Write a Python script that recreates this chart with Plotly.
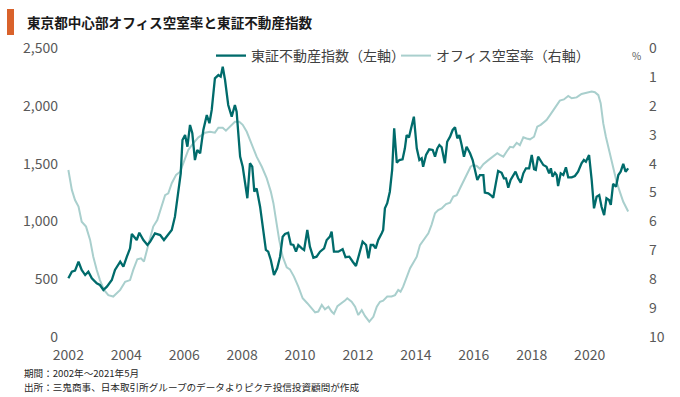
import plotly.graph_objects as go

# 東証不動産指数（左軸） — time (decimal year) and value
reit_t = [2002.00, 2002.12, 2002.23, 2002.35, 2002.46, 2002.58, 2002.69, 2002.81, 2002.98, 2003.09,
          2003.21, 2003.33, 2003.50, 2003.61, 2003.79, 2003.90, 2004.02, 2004.13, 2004.19, 2004.36,
          2004.45, 2004.59, 2004.73, 2004.82, 2004.99, 2005.17, 2005.30, 2005.45, 2005.57, 2005.68,
          2005.80, 2005.88, 2005.94, 2006.03, 2006.11, 2006.20, 2006.28, 2006.37, 2006.45, 2006.55,
          2006.66, 2006.78, 2006.87, 2006.95, 2007.06, 2007.18, 2007.26, 2007.33, 2007.41, 2007.52,
          2007.64, 2007.75, 2007.81, 2007.93, 2008.02, 2008.10, 2008.18, 2008.27, 2008.35, 2008.42,
          2008.50, 2008.62, 2008.73, 2008.82, 2008.90, 2008.99, 2009.10, 2009.21, 2009.31, 2009.40,
          2009.48, 2009.59, 2009.68, 2009.77, 2009.86, 2009.94, 2010.06, 2010.14, 2010.25, 2010.34,
          2010.46, 2010.57, 2010.69, 2010.83, 2010.92, 2011.03, 2011.09, 2011.17, 2011.32, 2011.47,
          2011.57, 2011.70, 2011.82, 2011.93, 2012.05, 2012.16, 2012.28, 2012.36, 2012.44, 2012.53,
          2012.61, 2012.70, 2012.82, 2012.87, 2012.93, 2013.01, 2013.10, 2013.18, 2013.25, 2013.34,
          2013.43, 2013.54, 2013.62, 2013.68, 2013.76, 2013.85, 2013.93, 2014.03, 2014.12, 2014.20,
          2014.25, 2014.35, 2014.46, 2014.58, 2014.66, 2014.74, 2014.81, 2014.89, 2015.00, 2015.08,
          2015.18, 2015.27, 2015.35, 2015.43, 2015.50, 2015.58, 2015.66, 2015.75, 2015.87, 2015.96,
          2016.04, 2016.12, 2016.21, 2016.33, 2016.38, 2016.50, 2016.58, 2016.67, 2016.76, 2016.84,
          2016.96, 2017.04, 2017.11, 2017.19, 2017.27, 2017.36, 2017.44, 2017.53, 2017.62, 2017.71,
          2017.80, 2017.91, 2018.00, 2018.08, 2018.14, 2018.22, 2018.31, 2018.40, 2018.51, 2018.60,
          2018.66, 2018.72, 2018.80, 2018.86, 2018.91, 2019.00, 2019.09, 2019.18, 2019.26, 2019.38,
          2019.49, 2019.60, 2019.72, 2019.80, 2019.87, 2019.98, 2020.07, 2020.15, 2020.24, 2020.33,
          2020.41, 2020.50, 2020.58, 2020.67, 2020.73, 2020.81, 2020.91, 2020.99, 2021.07, 2021.16,
          2021.24, 2021.33]
reit_v = [508, 565, 574, 651, 580, 536, 565, 508, 464, 450,
          407, 435, 493, 580, 651, 608, 695, 767, 891, 839,
          902, 839, 796, 824, 897, 882, 839, 882, 926, 1041,
          1257, 1416, 1704, 1747, 1646, 1834, 1762, 1531, 1618, 1589,
          1790, 1920, 1849, 1964, 2238, 2266, 2252, 2338, 2223, 2007,
          1906, 2007, 1949, 1560, 1473, 1343, 1200, 1503, 1473, 1257,
          1286, 1127, 897, 753, 738, 666, 536, 594, 695, 868,
          891, 902, 802, 796, 738, 796, 767, 753, 926, 781,
          686, 695, 738, 767, 839, 868, 911, 738, 738, 760,
          690, 695, 651, 614, 724, 824, 796, 681, 796, 796,
          767, 839, 897, 926, 1113, 1157, 1257, 1445, 1805, 1508,
          1531, 1537, 1632, 1747, 1727, 1819, 1906, 1632, 1531, 1546,
          1473, 1574, 1623, 1618, 1560, 1632, 1661, 1641, 1503, 1689,
          1733, 1791, 1814, 1719, 1747, 1661, 1560, 1646, 1589, 1531,
          1430, 1358, 1401, 1401, 1249, 1243, 1228, 1205, 1329, 1436,
          1421, 1373, 1373, 1292, 1358, 1401, 1430, 1373, 1335, 1416,
          1459, 1459, 1574, 1451, 1445, 1560, 1517, 1488, 1473, 1416,
          1459, 1387, 1421, 1401, 1306, 1416, 1401, 1468, 1381, 1381,
          1393, 1430, 1503, 1531, 1517, 1574, 1358, 1113, 1214, 1228,
          1127, 1055, 1200, 1185, 1142, 1324, 1300, 1401, 1430, 1497,
          1430, 1459]

# オフィス空室率（右軸） — time (decimal year) and %
vac_t = [2002.00, 2002.12, 2002.23, 2002.35, 2002.46, 2002.61, 2002.75, 2002.86, 2002.98, 2003.09,
         2003.23, 2003.38, 2003.55, 2003.67, 2003.79, 2003.96, 2004.13, 2004.24, 2004.38, 2004.51,
         2004.61, 2004.73, 2004.82, 2004.93, 2005.07, 2005.22, 2005.34, 2005.45, 2005.57, 2005.72,
         2005.86, 2005.99, 2006.14, 2006.31, 2006.49, 2006.66, 2006.72, 2006.89, 2007.06, 2007.18,
         2007.33, 2007.44, 2007.58, 2007.75, 2007.90, 2008.02, 2008.16, 2008.33, 2008.50, 2008.68,
         2008.85, 2008.99, 2009.08, 2009.17, 2009.28, 2009.40, 2009.54, 2009.65, 2009.79, 2009.94,
         2010.09, 2010.25, 2010.40, 2010.52, 2010.63, 2010.75, 2010.86, 2010.98, 2011.09, 2011.17,
         2011.29, 2011.44, 2011.55, 2011.63, 2011.78, 2011.90, 2012.01, 2012.13, 2012.24, 2012.39,
         2012.53, 2012.65, 2012.76, 2012.87, 2013.01, 2013.16, 2013.28, 2013.39, 2013.47, 2013.56,
         2013.68, 2013.80, 2013.91, 2014.03, 2014.14, 2014.28, 2014.43, 2014.54, 2014.66, 2014.77,
         2014.89, 2015.04, 2015.18, 2015.29, 2015.41, 2015.52, 2015.66, 2015.77, 2015.89, 2015.98,
         2016.10, 2016.21, 2016.33, 2016.50, 2016.67, 2016.81, 2016.90, 2017.02, 2017.13, 2017.25,
         2017.36, 2017.48, 2017.59, 2017.71, 2017.82, 2017.94, 2018.08, 2018.19, 2018.31, 2018.42,
         2018.51, 2018.63, 2018.74, 2018.86, 2018.97, 2019.11, 2019.26, 2019.38, 2019.55, 2019.72,
         2019.89, 2020.07, 2020.18, 2020.30, 2020.38, 2020.47, 2020.56, 2020.64, 2020.72, 2020.81,
         2020.93, 2021.04, 2021.16, 2021.33]
vac_v = [4.22, 4.91, 5.26, 5.49, 6.01, 6.18, 6.64, 7.22, 7.68, 8.03,
         8.37, 8.55, 8.60, 8.49, 8.37, 8.09, 8.03, 7.68, 7.31, 7.28,
         7.39, 6.93, 6.59, 6.18, 5.95, 5.43, 5.09, 5.03, 4.68, 4.39,
         4.28, 3.93, 3.53, 3.30, 3.09, 2.98, 2.93, 2.90, 2.93, 2.76,
         2.76, 2.86, 2.72, 2.55, 2.55, 2.66, 2.90, 3.30, 3.76, 4.11,
         4.51, 4.97, 5.37, 5.95, 6.64, 7.22, 7.59, 7.66, 7.91, 8.26,
         8.66, 8.83, 9.01, 9.15, 9.12, 8.89, 9.04, 8.95, 9.12, 9.20,
         8.93, 8.83, 8.74, 8.66, 8.78, 8.95, 9.24, 9.07, 9.27, 9.47,
         9.30, 8.95, 8.78, 8.74, 8.60, 8.60, 8.55, 8.37, 8.43, 8.26,
         7.97, 7.62, 7.43, 7.22, 6.82, 6.64, 6.41, 6.12, 5.72, 5.61,
         5.55, 5.40, 5.35, 5.14, 5.09, 4.86, 4.57, 4.39, 4.11, 4.05,
         4.08, 4.18, 4.02, 3.88, 3.76, 3.64, 3.70, 3.76, 3.59, 3.42,
         3.44, 3.28, 3.36, 3.09, 3.13, 3.16, 3.07, 2.72, 2.66, 2.55,
         2.49, 2.32, 2.15, 1.97, 1.82, 1.78, 1.66, 1.74, 1.71, 1.59,
         1.55, 1.51, 1.53, 1.63, 1.91, 2.61, 3.07, 3.42, 3.76, 4.22,
         4.63, 4.97, 5.32, 5.66]

year_ticks = [2002, 2004, 2006, 2008, 2010, 2012, 2014, 2016, 2018, 2020]
left_ticks = [0, 500, 1000, 1500, 2000, 2500]
right_ticks = [0, 1, 2, 3, 4, 5, 6, 7, 8, 9, 10]

DARK = "#006B6B"
LIGHT = "#A9CFCD"
FONT = "Noto Sans CJK JP"
TICK_COLOR = "#595959"

fig = go.Figure()
fig.add_trace(go.Scatter(x=vac_t, y=vac_v, mode="lines", name="オフィス空室率（右軸）",
                         line=dict(color=LIGHT, width=2), yaxis="y", legendrank=2))
fig.add_trace(go.Scatter(x=reit_t, y=reit_v, mode="lines", name="東証不動産指数（左軸）",
                         line=dict(color=DARK, width=2.3), yaxis="y2", legendrank=1))

W, H = 680, 397
L, R, T, B = 62, 44, 48, 60
pw, ph = W - L - R, H - T - B

def px(x):
    return (x - L) / pw

def py(y):
    return (H - B - y) / ph

fig.update_layout(
    width=W, height=H,
    margin=dict(l=L, r=R, t=T, b=B),
    paper_bgcolor="white", plot_bgcolor="white",
    font=dict(family=FONT, color=TICK_COLOR),
    showlegend=True,
    legend=dict(orientation="h", x=px(211), y=py(56), xanchor="left", yanchor="middle",
                font=dict(size=14, color="#404040", family=FONT),
                bgcolor="rgba(0,0,0,0)", entrywidth=140, entrywidthmode="pixels",
                itemwidth=30),
    xaxis=dict(range=[2001.78, 2021.60], tickvals=year_ticks, ticktext=[str(v) for v in year_ticks],
               showgrid=False, zeroline=False, showline=False, ticks="", ticklabelstandoff=8,
               tickfont=dict(size=14, color=TICK_COLOR)),
    yaxis=dict(side="right", range=[10, 0], tickvals=right_ticks, showgrid=False, zeroline=False,
               showline=False, ticks="", ticklabelstandoff=12,
               tickfont=dict(size=14, color=TICK_COLOR)),
    yaxis2=dict(side="left", overlaying="y", range=[0, 2500], tickvals=left_ticks,
                tickformat=",", showgrid=False, zeroline=False, showline=False, ticks="",
                ticklabelstandoff=3, tickfont=dict(size=14, color=TICK_COLOR)),
    shapes=[dict(type="rect", xref="paper", yref="paper", x0=px(7), x1=px(14), y0=py(35), y1=py(9),
                 fillcolor="#D9622B", line=dict(width=0))],
    annotations=[
        dict(text="<b>東京都中心部オフィス空室率と東証不動産指数</b>", xref="paper", yref="paper",
             x=px(25), y=py(22), xanchor="left", yanchor="middle", showarrow=False,
             font=dict(size=13.6, color="#1a1a1a", family=FONT)),
        dict(text="%", xref="paper", yref="paper", x=px(636), y=py(56), xanchor="center",
             yanchor="middle", showarrow=False, font=dict(size=10, color=TICK_COLOR, family=FONT)),
        dict(text="期間：2002年～2021年5月", xref="paper", yref="paper", x=px(22), y=py(373),
             xanchor="left", yanchor="middle", showarrow=False,
             font=dict(size=9.6, color="#262626", family=FONT)),
        dict(text="出所：三鬼商事、日本取引所グループのデータよりピクテ投信投資顧問が作成",
             xref="paper", yref="paper", x=px(22), y=py(387), xanchor="left", yanchor="middle",
             showarrow=False, font=dict(size=9.6, color="#262626", family=FONT)),
    ],
)

fig.write_html("out.html", config={"displayModeBar": False},
               post_script="document.body.style.margin='0';")
